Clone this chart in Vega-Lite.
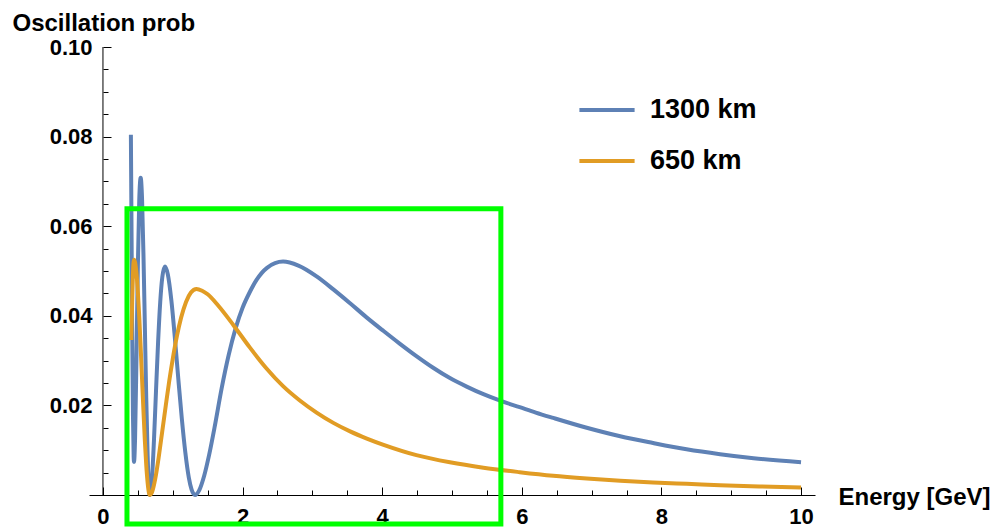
{
  "$schema": "https://vega.github.io/schema/vega-lite/v6.json",
  "width": 726,
  "height": 448,
  "autosize": {"type": "none"},
  "padding": {"left": 89, "top": 47, "right": 179, "bottom": 32},
  "background": "white",
  "config": {"view": {"stroke": null}, "font": "Liberation Sans", "axis": {"grid": false}},
  "datasets": {
    "curves": [
      {"E": 0.400, "P": 0.0804, "L": "1300 km"},
      {"E": 0.410, "P": 0.0573, "L": "1300 km"},
      {"E": 0.420, "P": 0.0347, "L": "1300 km"},
      {"E": 0.430, "P": 0.0176, "L": "1300 km"},
      {"E": 0.440, "P": 0.0085, "L": "1300 km"},
      {"E": 0.445, "P": 0.0074, "L": "1300 km"},
      {"E": 0.460, "P": 0.0126, "L": "1300 km"},
      {"E": 0.480, "P": 0.0307, "L": "1300 km"},
      {"E": 0.500, "P": 0.0512, "L": "1300 km"},
      {"E": 0.520, "P": 0.0659, "L": "1300 km"},
      {"E": 0.540, "P": 0.0708, "L": "1300 km"},
      {"E": 0.560, "P": 0.0661, "L": "1300 km"},
      {"E": 0.580, "P": 0.0538, "L": "1300 km"},
      {"E": 0.600, "P": 0.0378, "L": "1300 km"},
      {"E": 0.620, "P": 0.0217, "L": "1300 km"},
      {"E": 0.640, "P": 0.0088, "L": "1300 km"},
      {"E": 0.660, "P": 0.0014, "L": "1300 km"},
      {"E": 0.673, "P": 0.0000, "L": "1300 km"},
      {"E": 0.700, "P": 0.0031, "L": "1300 km"},
      {"E": 0.730, "P": 0.0120, "L": "1300 km"},
      {"E": 0.760, "P": 0.0233, "L": "1300 km"},
      {"E": 0.790, "P": 0.0342, "L": "1300 km"},
      {"E": 0.820, "P": 0.0430, "L": "1300 km"},
      {"E": 0.850, "P": 0.0486, "L": "1300 km"},
      {"E": 0.888, "P": 0.0510, "L": "1300 km"},
      {"E": 0.930, "P": 0.0492, "L": "1300 km"},
      {"E": 0.980, "P": 0.0434, "L": "1300 km"},
      {"E": 1.030, "P": 0.0351, "L": "1300 km"},
      {"E": 1.080, "P": 0.0258, "L": "1300 km"},
      {"E": 1.130, "P": 0.0170, "L": "1300 km"},
      {"E": 1.180, "P": 0.0095, "L": "1300 km"},
      {"E": 1.230, "P": 0.0039, "L": "1300 km"},
      {"E": 1.270, "P": 0.0012, "L": "1300 km"},
      {"E": 1.318, "P": 0.0000, "L": "1300 km"},
      {"E": 1.380, "P": 0.0011, "L": "1300 km"},
      {"E": 1.450, "P": 0.0043, "L": "1300 km"},
      {"E": 1.520, "P": 0.0089, "L": "1300 km"},
      {"E": 1.600, "P": 0.0152, "L": "1300 km"},
      {"E": 1.700, "P": 0.0238, "L": "1300 km"},
      {"E": 1.800, "P": 0.0312, "L": "1300 km"},
      {"E": 1.900, "P": 0.0372, "L": "1300 km"},
      {"E": 2.000, "P": 0.0418, "L": "1300 km"},
      {"E": 2.100, "P": 0.0452, "L": "1300 km"},
      {"E": 2.200, "P": 0.0480, "L": "1300 km"},
      {"E": 2.350, "P": 0.0507, "L": "1300 km"},
      {"E": 2.580, "P": 0.0521, "L": "1300 km"},
      {"E": 2.800, "P": 0.0512, "L": "1300 km"},
      {"E": 3.060, "P": 0.0488, "L": "1300 km"},
      {"E": 3.300, "P": 0.0459, "L": "1300 km"},
      {"E": 3.540, "P": 0.0428, "L": "1300 km"},
      {"E": 3.780, "P": 0.0396, "L": "1300 km"},
      {"E": 4.020, "P": 0.0366, "L": "1300 km"},
      {"E": 4.250, "P": 0.0338, "L": "1300 km"},
      {"E": 4.490, "P": 0.0310, "L": "1300 km"},
      {"E": 4.730, "P": 0.0284, "L": "1300 km"},
      {"E": 4.970, "P": 0.0261, "L": "1300 km"},
      {"E": 5.210, "P": 0.0242, "L": "1300 km"},
      {"E": 5.450, "P": 0.0225, "L": "1300 km"},
      {"E": 5.700, "P": 0.0210, "L": "1300 km"},
      {"E": 5.970, "P": 0.0196, "L": "1300 km"},
      {"E": 6.200, "P": 0.0184, "L": "1300 km"},
      {"E": 6.450, "P": 0.0172, "L": "1300 km"},
      {"E": 6.930, "P": 0.0150, "L": "1300 km"},
      {"E": 7.410, "P": 0.0131, "L": "1300 km"},
      {"E": 7.880, "P": 0.0116, "L": "1300 km"},
      {"E": 8.360, "P": 0.0102, "L": "1300 km"},
      {"E": 8.840, "P": 0.0091, "L": "1300 km"},
      {"E": 9.320, "P": 0.0082, "L": "1300 km"},
      {"E": 10.00, "P": 0.0073, "L": "1300 km"},
      {"E": 0.405, "P": 0.0346, "L": "650 km"},
      {"E": 0.420, "P": 0.0440, "L": "650 km"},
      {"E": 0.430, "P": 0.0495, "L": "650 km"},
      {"E": 0.445, "P": 0.0525, "L": "650 km"},
      {"E": 0.460, "P": 0.0519, "L": "650 km"},
      {"E": 0.480, "P": 0.0495, "L": "650 km"},
      {"E": 0.500, "P": 0.0453, "L": "650 km"},
      {"E": 0.520, "P": 0.0397, "L": "650 km"},
      {"E": 0.540, "P": 0.0330, "L": "650 km"},
      {"E": 0.560, "P": 0.0259, "L": "650 km"},
      {"E": 0.580, "P": 0.0188, "L": "650 km"},
      {"E": 0.600, "P": 0.0122, "L": "650 km"},
      {"E": 0.620, "P": 0.0067, "L": "650 km"},
      {"E": 0.640, "P": 0.0027, "L": "650 km"},
      {"E": 0.660, "P": 0.0004, "L": "650 km"},
      {"E": 0.673, "P": 0.0000, "L": "650 km"},
      {"E": 0.700, "P": 0.0005, "L": "650 km"},
      {"E": 0.750, "P": 0.0037, "L": "650 km"},
      {"E": 0.800, "P": 0.0086, "L": "650 km"},
      {"E": 0.850, "P": 0.0143, "L": "650 km"},
      {"E": 0.900, "P": 0.0200, "L": "650 km"},
      {"E": 0.950, "P": 0.0255, "L": "650 km"},
      {"E": 1.000, "P": 0.0304, "L": "650 km"},
      {"E": 1.060, "P": 0.0355, "L": "650 km"},
      {"E": 1.120, "P": 0.0396, "L": "650 km"},
      {"E": 1.190, "P": 0.0431, "L": "650 km"},
      {"E": 1.260, "P": 0.0452, "L": "650 km"},
      {"E": 1.340, "P": 0.0460, "L": "650 km"},
      {"E": 1.420, "P": 0.0456, "L": "650 km"},
      {"E": 1.500, "P": 0.0448, "L": "650 km"},
      {"E": 1.650, "P": 0.0423, "L": "650 km"},
      {"E": 1.870, "P": 0.0379, "L": "650 km"},
      {"E": 2.100, "P": 0.0330, "L": "650 km"},
      {"E": 2.340, "P": 0.0283, "L": "650 km"},
      {"E": 2.580, "P": 0.0243, "L": "650 km"},
      {"E": 2.820, "P": 0.0211, "L": "650 km"},
      {"E": 3.060, "P": 0.0184, "L": "650 km"},
      {"E": 3.300, "P": 0.0161, "L": "650 km"},
      {"E": 3.540, "P": 0.0142, "L": "650 km"},
      {"E": 3.780, "P": 0.0126, "L": "650 km"},
      {"E": 4.020, "P": 0.0112, "L": "650 km"},
      {"E": 4.490, "P": 0.0089, "L": "650 km"},
      {"E": 4.970, "P": 0.0073, "L": "650 km"},
      {"E": 5.450, "P": 0.0061, "L": "650 km"},
      {"E": 5.970, "P": 0.0051, "L": "650 km"},
      {"E": 6.450, "P": 0.0043, "L": "650 km"},
      {"E": 6.930, "P": 0.0037, "L": "650 km"},
      {"E": 7.410, "P": 0.0032, "L": "650 km"},
      {"E": 7.880, "P": 0.0028, "L": "650 km"},
      {"E": 8.360, "P": 0.0025, "L": "650 km"},
      {"E": 8.840, "P": 0.0022, "L": "650 km"},
      {"E": 9.400, "P": 0.0019, "L": "650 km"},
      {"E": 10.00, "P": 0.0017, "L": "650 km"}
    ],
    "box": [{"x1": 0.344, "x2": 5.70, "y1": -0.0065, "y2": 0.0639}]
  },
  "layer": [
    {
      "data": {"name": "box"},
      "mark": {"type": "rule", "color": "black", "strokeWidth": 1, "clip": false},
      "encoding": {
        "x": {
          "datum": 0, "type": "quantitative",
          "scale": {"domain": [-0.2, 10.2], "nice": false, "zero": false},
          "axis": {
            "orient": "top", "offset": -448, "labels": false, "domain": false, "ticks": true, "title": null,
            "values": [0.5, 1, 1.5, 2.5, 3, 3.5, 4.5, 5, 5.5, 6.5, 7, 7.5, 8.5, 9, 9.5],
            "tickColor": "black", "tickWidth": 1, "tickSize": 5
          }
        },
        "y": {
          "datum": 0, "type": "quantitative",
          "scale": {"domain": [0, 0.1], "nice": false, "zero": false},
          "axis": {
            "orient": "right", "offset": -712, "labels": false, "domain": false, "ticks": true, "title": null,
            "values": [0.005, 0.01, 0.015, 0.025, 0.03, 0.035, 0.045, 0.05, 0.055, 0.065, 0.07, 0.075, 0.085, 0.09, 0.095],
            "tickColor": "black", "tickWidth": 1, "tickSize": 5
          }
        },
        "y2": {"datum": 0.1}
      }
    },
    {
      "data": {"name": "curves"},
      "mark": {"type": "line", "strokeWidth": 4, "clip": false, "interpolate": "monotone"},
      "encoding": {
        "x": {
          "field": "E", "type": "quantitative",
          "scale": {"domain": [-0.2, 10.2], "nice": false, "zero": false},
          "axis": {
            "orient": "bottom", "values": [0, 2, 4, 6, 8, 10], "ticks": false,
            "domain": true, "domainColor": "black", "domainWidth": 1,
            "labelFont": "Liberation Sans", "labelFontSize": 22, "labelFontWeight": "bold",
            "labelColor": "black", "labelPadding": 11,
            "title": "Energy [GeV]", "titleFont": "Liberation Sans", "titleFontSize": 24,
            "titleFontWeight": "bold", "titleColor": "black", "titleX": 749, "titleY": 9,
            "titleAlign": "left", "titleBaseline": "alphabetic", "titleAnchor": "start"
          }
        },
        "y": {
          "field": "P", "type": "quantitative",
          "scale": {"domain": [0, 0.1], "nice": false, "zero": false},
          "axis": {
            "orient": "left", "offset": -14, "values": [0.02, 0.04, 0.06, 0.08, 0.1],
            "format": ".2f", "ticks": false, "domain": false,
            "labelFont": "Liberation Sans", "labelFontSize": 22, "labelFontWeight": "bold",
            "labelColor": "black", "labelPadding": 11,
            "title": "Oscillation prob", "titleFont": "Liberation Sans", "titleFontSize": 24,
            "titleFontWeight": "bold", "titleColor": "black", "titleAngle": 0,
            "titleAlign": "left", "titleBaseline": "alphabetic", "titleX": -91, "titleY": -17
          }
        },
        "color": {
          "field": "L", "type": "nominal",
          "scale": {"domain": ["1300 km", "650 km"], "range": ["#5E81B5", "#E19C24"]},
          "legend": {
            "orient": "none", "legendX": 492, "legendY": 37, "title": null,
            "symbolType": "M-1.15,0H1.15", "symbolSize": 2304, "symbolStrokeWidth": 4,
            "labelFont": "Liberation Sans", "labelFontSize": 27, "labelFontWeight": "bold",
            "labelColor": "black", "labelOffset": 17, "rowPadding": 12, "padding": 0
          }
        }
      }
    },
    {
      "data": {"name": "box"},
      "mark": {"type": "rect", "fill": "transparent", "stroke": "#00ff00", "strokeWidth": 5, "clip": false},
      "encoding": {
        "x": {
          "field": "x1", "type": "quantitative",
          "scale": {"domain": [-0.2, 10.2], "nice": false, "zero": false},
          "axis": {
            "orient": "top", "offset": -448, "labels": false, "domain": false, "ticks": true, "title": null,
            "values": [0, 2, 4, 6, 8, 10],
            "tickColor": "black", "tickWidth": 1, "tickSize": 8
          }
        },
        "x2": {"field": "x2"},
        "y": {
          "field": "y1", "type": "quantitative",
          "scale": {"domain": [0, 0.1], "nice": false, "zero": false},
          "axis": {
            "orient": "right", "offset": -712, "labels": false, "domain": false, "ticks": true, "title": null,
            "values": [0.02, 0.04, 0.06, 0.08, 0.1],
            "tickColor": "black", "tickWidth": 1, "tickSize": 8
          }
        },
        "y2": {"field": "y2"}
      }
    }
  ],
  "resolve": {"axis": {"x": "independent", "y": "independent"}}
}
